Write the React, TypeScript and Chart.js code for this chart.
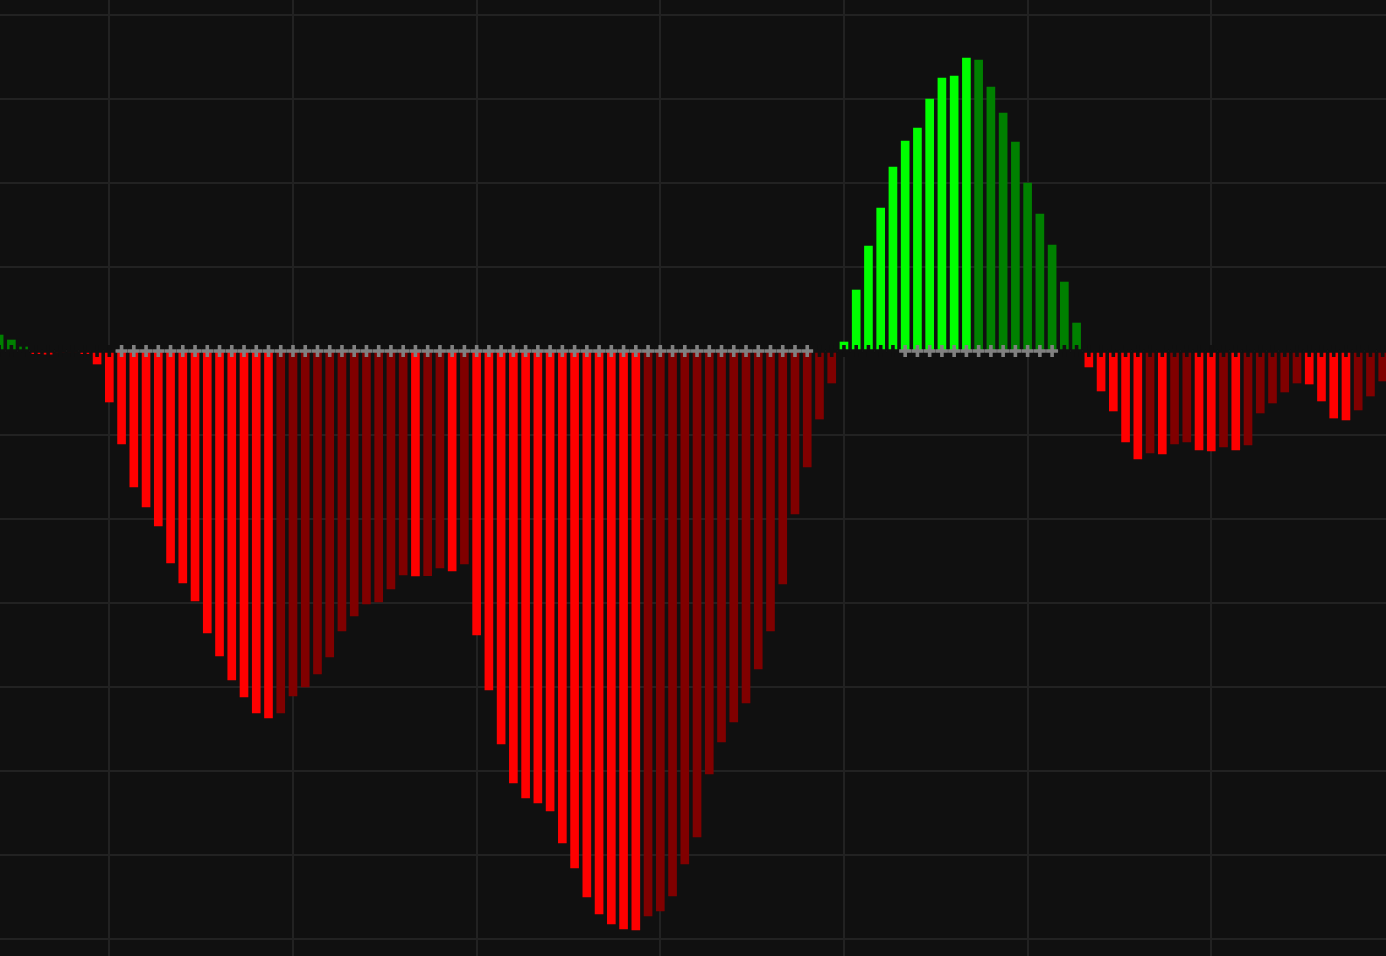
import React, { useEffect, useRef } from "react";
import { Chart, registerables } from "chart.js";

Chart.register(...registerables);

// squeeze momentum histogram, one value per bar (oldest first)
const momentum = [
  19.0, 13.1, 4.8, -3.2, -3.8, -1.5, -1.0, -3.2, -15.5, -60.7,
  -110.7, -161.9, -185.7, -208.3, -252.4, -276.2, -297.6, -335.7, -363.1, -391.7,
  -411.9, -431.0, -436.9, -431.0, -410.7, -400.0, -384.5, -364.3, -333.3, -315.5,
  -301.2, -298.8, -283.3, -266.7, -267.9, -267.5, -258.3, -261.9, -253.6, -338.1,
  -403.6, -467.9, -514.3, -532.1, -538.1, -547.6, -585.7, -615.5, -650.0, -670.2,
  -682.1, -688.1, -689.3, -672.6, -666.7, -648.8, -610.7, -578.6, -503.6, -465.5,
  -441.7, -419.0, -378.6, -333.3, -277.4, -194.0, -138.1, -81.0, -38.1, 10.7,
  72.6, 125.0, 170.2, 219.0, 250.0, 265.5, 300.0, 325.0, 327.4, 348.8,
  346.4, 314.3, 283.3, 248.8, 200.0, 163.1, 126.2, 82.1, 33.3, -19.0,
  -47.6, -71.4, -108.3, -128.6, -121.4, -122.6, -110.7, -108.3, -117.9, -119.0,
  -114.3, -117.9, -111.9, -73.8, -61.9, -48.8, -38.1, -39.3, -59.5, -79.8,
  -82.1, -70.2, -53.6, -35.7,
];

// bar index ranges where the squeeze has fired (gray crosses), dark elsewhere
const firedRuns = [
  [10, 66],
  [74, 86],
];

// bar indices carrying a vertical grid line
const xGridBars = [9, 24, 39, 54, 69, 84, 99];

const BG = "#101010";

const barColor = (v: number, prev: number) => {
  if (v >= 0) return v > prev ? "#00ff00" : "#008000";
  return v < prev ? "#ff0000" : "#800000";
};

const App: React.FC = () => {
  const chartRef = useRef<HTMLCanvasElement | null>(null);

  useEffect(() => {
    if (!chartRef.current) return;
    const ctx = chartRef.current.getContext("2d");
    if (!ctx) return;

    const colors = momentum.map((v, i) => barColor(v, i > 0 ? momentum[i - 1] : Infinity));
    const crossColors = momentum.map((_, i) =>
      firedRuns.some(([a, b]) => i >= a && i <= b) ? "#808080" : BG
    );

    const chart = new Chart(ctx, {
      type: "bar",
      data: {
        datasets: [
          {
            type: "line",
            data: momentum.map((_, i) => ({ x: i, y: 0 })),
            showLine: false,
            pointStyle: "cross",
            pointRadius: 6,
            pointBorderWidth: 3.6,
            pointBorderColor: crossColors,
            pointBackgroundColor: crossColors,
            order: 0,
          },
          {
            type: "bar",
            data: momentum.map((v, i) => ({ x: i, y: v })),
            backgroundColor: colors,
            barThickness: 8,
            order: 1,
          },
        ] as any,
      },
      options: {
        animation: false,
        responsive: true,
        maintainAspectRatio: false,
        events: [],
        layout: { padding: 0, autoPadding: false },
        plugins: {
          legend: { display: false },
          tooltip: { enabled: false },
        },
        scales: {
          x: {
            type: "linear",
            min: 0.071,
            max: 113.27,
            offset: false,
            border: { display: false },
            grid: { color: "#222222", lineWidth: 2, drawTicks: false, offset: false },
            ticks: { display: false },
            afterBuildTicks: (axis: any) => {
              axis.ticks = xGridBars.map((value) => ({ value }));
            },
          },
          y: {
            min: -720.24,
            max: 417.86,
            border: { display: false },
            grid: { color: "#222222", lineWidth: 2, drawTicks: false },
            ticks: { display: false, stepSize: 100, includeBounds: false },
          },
        },
      },
    });

    return () => {
      chart.destroy();
    };
  }, []);

  return (
    <div style={{ position: "fixed", left: 0, top: 0, width: "100vw", height: "100vh", background: BG }}>
      <canvas ref={chartRef}></canvas>
    </div>
  );
};

export default App;
